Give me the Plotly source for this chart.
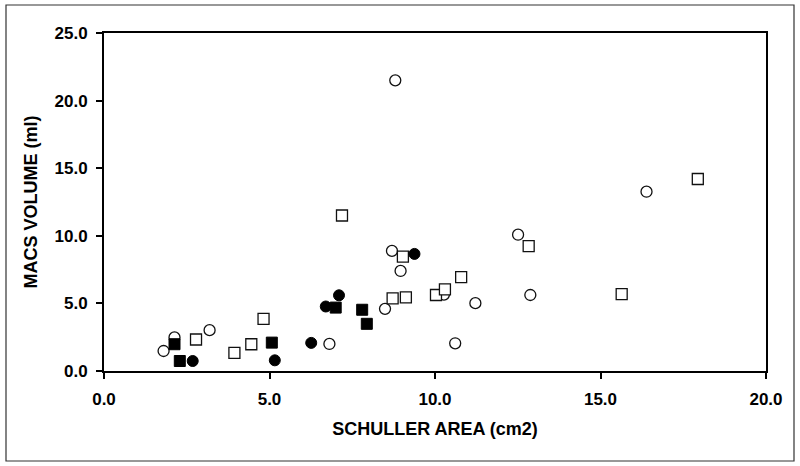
import plotly.graph_objects as go

# Open circles
oc_x = [1.80, 2.13, 3.19, 6.81, 8.49, 8.70, 8.96, 8.80, 10.27, 10.61, 11.22, 12.51, 12.88, 16.39]
oc_y = [1.48, 2.48, 3.02, 2.00, 4.60, 8.88, 7.40, 21.5, 5.65, 2.05, 5.02, 10.08, 5.62, 13.26]
# Filled circles
fc_x = [2.68, 5.16, 6.26, 6.70, 7.10, 9.38]
fc_y = [0.74, 0.79, 2.08, 4.77, 5.60, 8.66]
# Open squares
os_x = [2.78, 3.94, 4.45, 4.82, 7.19, 8.72, 9.03, 9.12, 10.03, 10.30, 10.79, 12.83, 15.64, 17.94]
os_y = [2.33, 1.34, 1.98, 3.86, 11.5, 5.37, 8.46, 5.44, 5.62, 6.04, 6.95, 9.23, 5.69, 14.2]
# Filled squares
fs_x = [2.13, 2.29, 5.07, 7.00, 7.80, 7.94]
fs_y = [1.98, 0.74, 2.10, 4.69, 4.53, 3.49]

x_ticks = [0, 5, 10, 15, 20]
y_ticks = [0, 5, 10, 15, 20, 25]

FONT = "Arial, Liberation Sans, sans-serif"
MS = 11

fig = go.Figure()
fig.add_trace(go.Scatter(x=oc_x, y=oc_y, mode="markers",
                         marker=dict(symbol="circle", size=MS, color="white",
                                     line=dict(color="#111", width=1.3))))
fig.add_trace(go.Scatter(x=os_x, y=os_y, mode="markers",
                         marker=dict(symbol="square", size=MS, color="white",
                                     line=dict(color="#111", width=1.3))))
fig.add_trace(go.Scatter(x=fc_x, y=fc_y, mode="markers",
                         marker=dict(symbol="circle", size=MS, color="black",
                                     line=dict(color="black", width=1))))
fig.add_trace(go.Scatter(x=fs_x, y=fs_y, mode="markers",
                         marker=dict(symbol="square", size=MS, color="black",
                                     line=dict(color="black", width=1))))

L, R, T, B = 104, 34, 33, 95
W, H = 800, 466
pw, ph = W - L - R, H - T - B

fig.update_layout(
    width=W, height=H,
    margin=dict(l=L, r=R, t=T, b=B),
    paper_bgcolor="white", plot_bgcolor="white",
    showlegend=False,
    font=dict(family=FONT, size=17, color="black"),
    xaxis=dict(range=[0, 20], tickvals=x_ticks, tickformat=".1f",
               automargin=False,
               showgrid=False, zeroline=False,
               showline=True, linecolor="black", linewidth=2, mirror=True,
               ticks="outside", ticklen=6, tickwidth=2, tickcolor="black",
               ticklabelstandoff=6,
               tickfont=dict(family=FONT, size=17, color="black", weight="bold"),
               title=dict(text="<b>SCHULLER AREA (cm2)</b>", standoff=14,
                          font=dict(family=FONT, size=18, color="black"))),
    yaxis=dict(range=[0, 25], tickvals=y_ticks, tickformat=".1f",
               automargin=False,
               showgrid=False, zeroline=False,
               showline=True, linecolor="black", linewidth=2, mirror=True,
               ticks="outside", ticklen=6, tickwidth=2, tickcolor="black",
               ticklabelstandoff=5,
               tickfont=dict(family=FONT, size=17, color="black", weight="bold"),
               title=dict(text="<b>MACS VOLUME (ml)</b>", standoff=12,
                          font=dict(family=FONT, size=18, color="black"))),
)

# outer frame
fig.add_shape(type="rect", xref="paper", yref="paper",
              x0=(6 - L) / pw, x1=(794 - L) / pw,
              y0=(H - B - 461) / ph, y1=(H - B - 5) / ph,
              line=dict(color="#333", width=1.2), fillcolor="rgba(0,0,0,0)",
              layer="below")

fig.write_html("out.html",
               config={"displayModeBar": False},
               post_script="document.body.style.margin='0';document.body.style.padding='0';")
